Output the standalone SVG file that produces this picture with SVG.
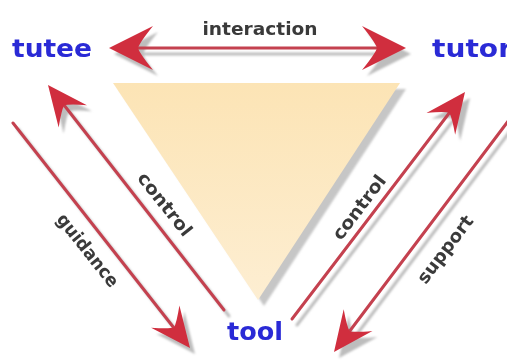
<svg xmlns="http://www.w3.org/2000/svg" width="507" height="363" viewBox="0 0 507 363">
  <defs>
    <style>
      .node-label { font-family: "DejaVu Sans", "Liberation Sans", sans-serif; font-weight: bold; fill: #2a2ad6; font-size: 24px; }
      .edge-label { font-family: "DejaVu Sans", "Liberation Sans", sans-serif; font-weight: bold; fill: #3a3a3a; font-size: 18px; }
      .ln { stroke: #c4414f; stroke-width: 3; fill: none; stroke-linecap: round; }
      .hd { fill: #d02e3e; }
      .sh .ln { stroke: #bdbdbd; }
      .sh .hd { fill: #bdbdbd; }
    </style>
    <linearGradient id="yel" x1="0" y1="0" x2="0" y2="1">
      <stop offset="0" stop-color="#fce4b5"/>
      <stop offset="1" stop-color="#fdeed2"/>
    </linearGradient>
    <filter id="blur" x="-10%" y="-10%" width="120%" height="120%">
      <feGaussianBlur stdDeviation="1.2"/>
    </filter>
    <path id="head" d="M0,0 L-40,-18 Q-28,-5 -26,0 Q-28,5 -40,18 Z"/>
    <path id="headL" d="M0,0 L-44,-22 Q-31,-6 -29,0 Q-31,6 -44,22 Z"/>
  </defs>
  <rect width="507" height="363" fill="#ffffff"/>

  <g id="tool-triangle">
    <polygon points="113,83 400,83 258,300" fill="#c6c6c6" transform="translate(6,6)" filter="url(#blur)"/>
    <polygon points="113,83 400,83 258,300" fill="url(#yel)"/>
  </g>

  <g id="connectors">
    <g class="sh" transform="translate(5,6)" filter="url(#blur)">
      <line class="ln" x1="135" y1="48" x2="380" y2="48"/>
      <use href="#headL" class="hd" transform="translate(109,48) rotate(180)"/>
      <use href="#headL" class="hd" transform="translate(406,48)"/>
      <line class="ln" x1="224" y1="310" x2="64" y2="105"/>
      <use href="#head" class="hd" transform="translate(48,85) rotate(-128.3)"/>
      <line class="ln" x1="13" y1="123" x2="174" y2="328"/>
      <use href="#head" class="hd" transform="translate(190,348) rotate(51.8)"/>
      <line class="ln" x1="292" y1="319" x2="450" y2="112"/>
      <use href="#head" class="hd" transform="translate(465,92) rotate(-52.8)"/>
      <line class="ln" x1="512" y1="116" x2="349" y2="332"/>
      <use href="#head" class="hd" transform="translate(334,352) rotate(127)"/>
    </g>
    <g id="edge-interaction">
      <line class="ln" x1="135" y1="48" x2="380" y2="48"/>
      <use href="#headL" class="hd" transform="translate(109,48) rotate(180)"/>
      <use href="#headL" class="hd" transform="translate(406,48)"/>
    </g>
    <g id="edge-control-tutee">
      <line class="ln" x1="224" y1="310" x2="64" y2="105"/>
      <use href="#head" class="hd" transform="translate(48,85) rotate(-128.3)"/>
    </g>
    <g id="edge-guidance">
      <line class="ln" x1="13" y1="123" x2="174" y2="328"/>
      <use href="#head" class="hd" transform="translate(190,348) rotate(51.8)"/>
    </g>
    <g id="edge-control-tutor">
      <line class="ln" x1="292" y1="319" x2="450" y2="112"/>
      <use href="#head" class="hd" transform="translate(465,92) rotate(-52.8)"/>
    </g>
    <g id="edge-support">
      <line class="ln" x1="512" y1="116" x2="349" y2="332"/>
      <use href="#head" class="hd" transform="translate(334,352) rotate(127)"/>
    </g>
    <text class="edge-label" x="260" y="35" text-anchor="middle" textLength="115" lengthAdjust="spacingAndGlyphs">interaction</text>
    <text class="edge-label" transform="translate(87,251) rotate(51.6)" text-anchor="middle" dy="5" textLength="88" lengthAdjust="spacingAndGlyphs">guidance</text>
    <text class="edge-label" transform="translate(164,205) rotate(51.6)" text-anchor="middle" dy="5" textLength="76" lengthAdjust="spacingAndGlyphs">control</text>
    <text class="edge-label" transform="translate(360,208) rotate(-52.8)" text-anchor="middle" dy="5" textLength="76" lengthAdjust="spacingAndGlyphs">control</text>
    <text class="edge-label" transform="translate(446,250) rotate(-52.8)" text-anchor="middle" dy="5" textLength="80" lengthAdjust="spacingAndGlyphs">support</text>
  </g>

  <g id="node-tutee">
    <text class="node-label" x="12" y="57" textLength="80" lengthAdjust="spacingAndGlyphs">tutee</text>
  </g>
  <g id="node-tutor">
    <text class="node-label" x="432" y="57" textLength="80" lengthAdjust="spacingAndGlyphs">tutor</text>
  </g>
  <g id="node-tool">
    <text class="node-label" x="227" y="340" font-size="27" textLength="56" lengthAdjust="spacingAndGlyphs">tool</text>
  </g>
</svg>
